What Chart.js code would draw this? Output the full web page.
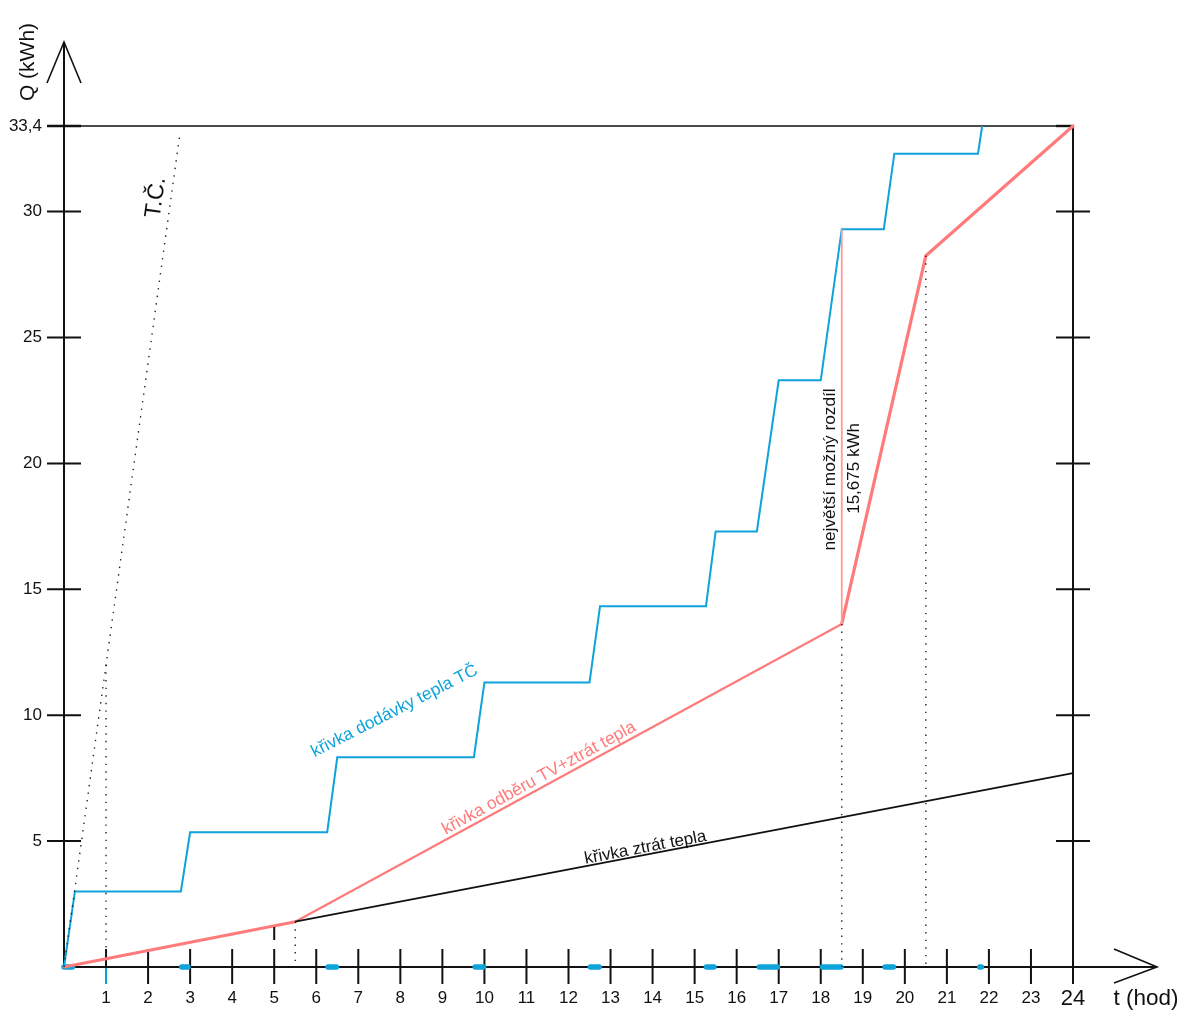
<!DOCTYPE html>
<html>
<head>
<meta charset="utf-8">
<script src="https://cdn.jsdelivr.net/npm/chart.js@4.4.0/dist/chart.umd.min.js"></script>
<style>
html,body{margin:0;padding:0;background:#fff;}
#wrap{width:1185px;height:1012px;position:relative;}
</style>
</head>
<body>
<div id="wrap"><canvas id="c"></canvas></div>
<script>
// ---- data (hours, kWh) ----
const stepT = [0, 0.26, 2.78, 3.0, 6.26, 6.5, 9.75, 10.0, 12.5, 12.75, 15.27, 15.5, 16.48, 17.0, 18.0, 18.5, 19.5, 19.75, 21.74, 21.84];
const stepQ = [0, 3.0, 3.0, 5.35, 5.35, 8.33, 8.33, 11.3, 11.3, 14.33, 14.33, 17.3, 17.3, 23.3, 23.3, 29.3, 29.3, 32.3, 32.3, 33.4];
const demandT = [0, 5.5, 18.5, 20.5, 24];
const demandQ = [0, 1.8, 13.625, 28.25, 33.4];
const lossT = [5.5, 24];
const lossQ = [1.8, 7.7];
const hpT = [0, 2.75];
const hpQ = [0, 33.0];
const pumpStart = [0.0, 2.80, 6.28, 9.78, 12.52, 15.28, 16.54, 18.04, 19.53, 21.78];
const pumpEnd   = [0.2, 2.95, 6.48, 9.98, 12.73, 15.46, 16.97, 18.48, 19.73, 21.82];
const dropT = [1, 5.5, 18.5, 20.5];
const dropQ = [12.0, 1.8, 13.625, 28.25];
const diffT = 18.5;
const diffQ = [13.625, 29.3];
const markT = 5;
const markQ = [1.07, 1.59];
const xTickValues = [1,2,3,4,5,6,7,8,9,10,11,12,13,14,15,16,17,18,19,20,21,22,23];
const xTickLabels = ['1','2','3','4','5','6','7','8','9','10','11','12','13','14','15','16','17','18','19','20','21','22','23'];
const yTickValues = [5, 10, 15, 20, 25, 30];
const yTickLabels = ['5', '10', '15', '20', '25', '30'];
const xMax = 24, xMaxLabel = '24';
const yMax = 33.4, yMaxLabel = '33,4';
const xTitle = 't (hod)', yTitle = 'Q (kWh)';

const BLUE = '#0ea3da';
const RED = '#ff7b7b';
const FONT = '"Liberation Sans", Arial, sans-serif';

const pts = (t, q) => t.map((x, i) => ({x: x, y: q[i]}));
const pumpData = [];
pumpStart.forEach((s, i) => {
  pumpData.push({x: s, y: 0}, {x: pumpEnd[i], y: 0}, {x: pumpEnd[i], y: null});
});
const dropData = [];
dropT.forEach((t, i) => { dropData.push({x: t, y: dropQ[i]}, {x: t, y: 0}, {x: t, y: null}); });

const axesPlugin = {
  id: 'axesDraw',
  beforeDatasetsDraw(chart) {
    const {ctx, scales: {x, y}} = chart;
    const x0 = x.getPixelForValue(0), x24 = x.getPixelForValue(xMax);
    const y0 = y.getPixelForValue(0), yTop = y.getPixelForValue(yMax);
    ctx.save();
    ctx.strokeStyle = '#111';
    ctx.lineCap = 'butt';
    // top line at 33,4
    ctx.lineWidth = 1.6;
    ctx.beginPath(); ctx.moveTo(x0 - 17, yTop); ctx.lineTo(x24, yTop); ctx.stroke();
    ctx.lineWidth = 2;
    // y axis + arrow
    const tipY = yTop - 84;
    ctx.beginPath(); ctx.moveTo(x0, y0); ctx.lineTo(x0, tipY); ctx.stroke();
    ctx.lineWidth = 1.6;
    ctx.beginPath(); ctx.moveTo(x0 - 17, tipY + 41); ctx.lineTo(x0, tipY); ctx.lineTo(x0 + 17, tipY + 41); ctx.stroke();
    // x axis + arrow
    ctx.lineWidth = 2;
    const tipX = x24 + 84;
    ctx.beginPath(); ctx.moveTo(x0, y0); ctx.lineTo(tipX, y0); ctx.stroke();
    ctx.lineWidth = 1.6;
    ctx.beginPath(); ctx.moveTo(tipX - 43, y0 - 18); ctx.lineTo(tipX, y0); ctx.lineTo(tipX - 43, y0 + 16); ctx.stroke();
    // right vertical at 24
    ctx.lineWidth = 2;
    ctx.beginPath(); ctx.moveTo(x24, yTop); ctx.lineTo(x24, y0 + 17); ctx.stroke();
    // x ticks
    xTickValues.forEach(v => {
      const px = x.getPixelForValue(v);
      ctx.beginPath(); ctx.moveTo(px, y0 - 18); ctx.lineTo(px, y0 + 17); ctx.stroke();
    });
    // blue lower half at t=1
    ctx.strokeStyle = BLUE;
    ctx.beginPath(); ctx.moveTo(x.getPixelForValue(1), y0 + 1); ctx.lineTo(x.getPixelForValue(1), y0 + 17); ctx.stroke();
    ctx.strokeStyle = '#111';
    // y ticks (left and right)
    yTickValues.forEach(v => {
      const py = y.getPixelForValue(v);
      ctx.beginPath(); ctx.moveTo(x0 - 17, py); ctx.lineTo(x0 + 17, py); ctx.stroke();
      ctx.beginPath(); ctx.moveTo(x24 - 17, py); ctx.lineTo(x24 + 17, py); ctx.stroke();
    });
    ctx.lineWidth = 2.4;
    ctx.beginPath(); ctx.moveTo(x0 - 17, yTop); ctx.lineTo(x0 + 17, yTop); ctx.stroke();
    ctx.beginPath(); ctx.moveTo(x24 - 17, yTop); ctx.lineTo(x24, yTop); ctx.stroke();

    // labels
    ctx.fillStyle = '#111';
    ctx.font = '17px ' + FONT;
    ctx.textAlign = 'center'; ctx.textBaseline = 'middle';
    xTickValues.forEach((v, i) => ctx.fillText(xTickLabels[i], x.getPixelForValue(v), y0 + 31));
    ctx.textAlign = 'right';
    yTickValues.forEach((v, i) => ctx.fillText(yTickLabels[i], x0 - 22, y.getPixelForValue(v)));
    ctx.fillText(yMaxLabel, x0 - 22, yTop);
    ctx.font = '22px ' + FONT;
    ctx.textAlign = 'center';
    ctx.fillText(xMaxLabel, x24, y0 + 32);
    ctx.font = '22.5px ' + FONT;
    ctx.fillText(xTitle, x24 + 73, y0 + 32);
    ctx.save();
    ctx.translate(x0 - 36, tipY + 20);
    ctx.rotate(-Math.PI / 2);
    ctx.font = '21px ' + FONT;
    ctx.fillText(yTitle, 0, 0);
    ctx.restore();
    ctx.restore();
  },
  afterDatasetsDraw(chart) {
    const {ctx, scales: {x, y}} = chart;
    const put = (text, t, q, deg, color, size) => {
      ctx.save();
      ctx.translate(x.getPixelForValue(t), y.getPixelForValue(q));
      ctx.rotate(deg * Math.PI / 180);
      ctx.fillStyle = color;
      ctx.font = size + 'px ' + FONT;
      ctx.textAlign = 'center'; ctx.textBaseline = 'middle';
      ctx.fillText(text, 0, 0);
      ctx.restore();
    };
    put('T.Č.', 2.19, 30.56, -82, '#111', 23);
    put('křivka dodávky tepla TČ', 7.86, 10.16, -27, BLUE, 17.3);
    put('křivka odběru TV+ztrát tepla', 11.3, 7.5, -28.7, RED, 17.4);
    put('křivka ztrát tepla', 13.83, 4.74, -10.8, '#111', 17);
    put('největší možný rozdíl', 18.23, 19.76, -90, '#111', 17.3);
    put('15,675 kWh', 18.79, 19.8, -90, '#111', 17);
  }
};

const ds = (data, color, width, extra) => Object.assign({
  data: data, borderColor: color, borderWidth: width, pointRadius: 0,
  fill: false, tension: 0, clip: false, spanGaps: false,
  borderCapStyle: 'butt', borderJoinStyle: 'miter'
}, extra || {});

new Chart(document.getElementById('c'), {
  type: 'line',
  data: {
    datasets: [
      ds(pts(hpT, hpQ), '#222', 1.4, {borderDash: [1.4, 6.2]}),
      ds(dropData, '#222', 1.4, {borderDash: [1.4, 6.2]}),
      ds(pts([markT, markT], markQ), '#111', 2),
      ds(pts(lossT, lossQ), '#111', 1.7),
      ds(pts([diffT, diffT], diffQ), '#ff9a9a', 1.8),
      ds(pts(stepT, stepQ), BLUE, 2, {borderJoinStyle: 'miter'}),
      ds(pts(demandT.slice(0, 2), demandQ.slice(0, 2)), RED, 3, {borderCapStyle: 'round'}),
      ds(pts(demandT.slice(1, 3), demandQ.slice(1, 3)), RED, 2.2),
      ds(pts(demandT.slice(2), demandQ.slice(2)), RED, 3.2, {borderCapStyle: 'round', borderJoinStyle: 'round'}),
      ds(pumpData, BLUE, 5.5, {borderCapStyle: 'round'})
    ]
  },
  options: {
    responsive: true,
    maintainAspectRatio: false,
    animation: false,
    events: [],
    layout: {padding: {left: 64, right: 112, top: 126, bottom: 45}},
    scales: {
      x: {type: 'linear', min: 0, max: xMax, display: false},
      y: {type: 'linear', min: 0, max: yMax, display: false}
    },
    plugins: {legend: {display: false}, tooltip: {enabled: false}}
  },
  plugins: [axesPlugin]
});
</script>
</body>
</html>
